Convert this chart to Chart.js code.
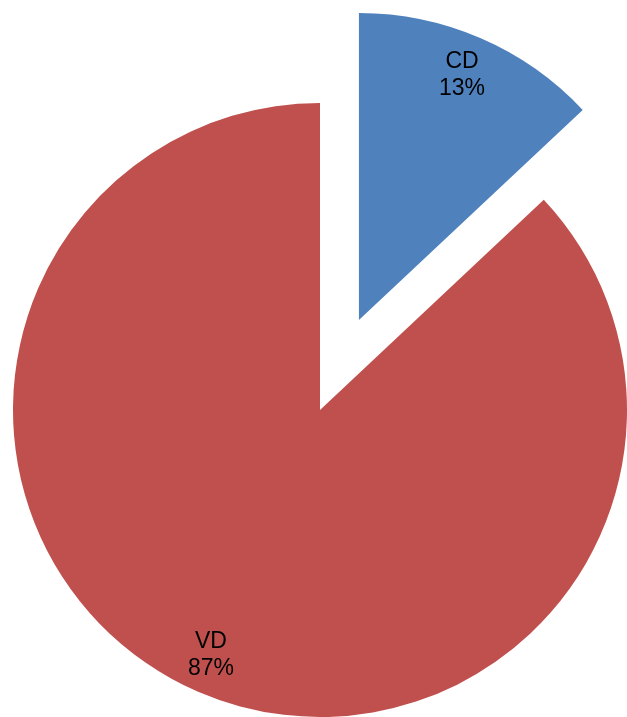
<!DOCTYPE html>
<html>
<head>
<meta charset="utf-8">
<script src="https://cdn.jsdelivr.net/npm/chart.js@4.4.0/dist/chart.umd.min.js"></script>
<style>
  body { margin: 0; background: #fff; }
  #wrap { width: 627px; height: 717px; position: relative; }
</style>
</head>
<body>
<div id="wrap"><canvas id="myPieChart"></canvas></div>
<script>
// chart data
var categories = ['CD', 'VD'];
var values = [13, 87];
var colors = ['#4F81BD', '#C0504D'];
var explode = [98, 0]; // how far each slice is pulled out (px)

// draw slices ourselves so the exploded one is only moved, not reshaped
var explodePlugin = {
    id: 'explodeSlices',
    beforeDatasetsDraw: function(chart) {
        var ctx = chart.ctx;
        var meta = chart.getDatasetMeta(0);
        meta.data.forEach(function(arc, i) {
            var mid = (arc.startAngle + arc.endAngle) / 2;
            var e = explode[i] || 0;
            ctx.save();
            ctx.translate(Math.cos(mid) * e, Math.sin(mid) * e);
            arc.draw(ctx);
            ctx.restore();
        });
        return false;
    },
    afterDraw: function(chart) {
        var ctx = chart.ctx;
        var meta = chart.getDatasetMeta(0);
        var total = values.reduce(function(a, b) { return a + b; }, 0);
        ctx.save();
        ctx.fillStyle = '#000';
        ctx.font = '23px "Liberation Sans", Arial, sans-serif';
        ctx.textAlign = 'center';
        ctx.textBaseline = 'middle';
        meta.data.forEach(function(arc, i) {
            var mid = (arc.startAngle + arc.endAngle) / 2;
            var d = (explode[i] || 0) + arc.outerRadius * 0.87;
            var lx = arc.x + Math.cos(mid) * d - 3;
            var ly = arc.y + Math.sin(mid) * d;
            ctx.fillText(categories[i], lx, ly - 13);
            ctx.fillText(Math.round(values[i] / total * 100) + '%', lx, ly + 14);
        });
        ctx.restore();
    }
};

var ctx = document.getElementById('myPieChart').getContext('2d');
var myPieChart = new Chart(ctx, {
    type: 'pie',
    data: {
        labels: categories,
        datasets: [{
            data: values,
            backgroundColor: colors,
            borderWidth: 0
        }]
    },
    options: {
        responsive: true,
        maintainAspectRatio: false,
        animation: false,
        radius: 307,
        layout: { padding: { left: 13, right: 0, top: 103, bottom: 0 } },
        plugins: {
            legend: { display: false },
            tooltip: { enabled: false }
        }
    },
    plugins: [explodePlugin]
});
</script>
</body>
</html>
